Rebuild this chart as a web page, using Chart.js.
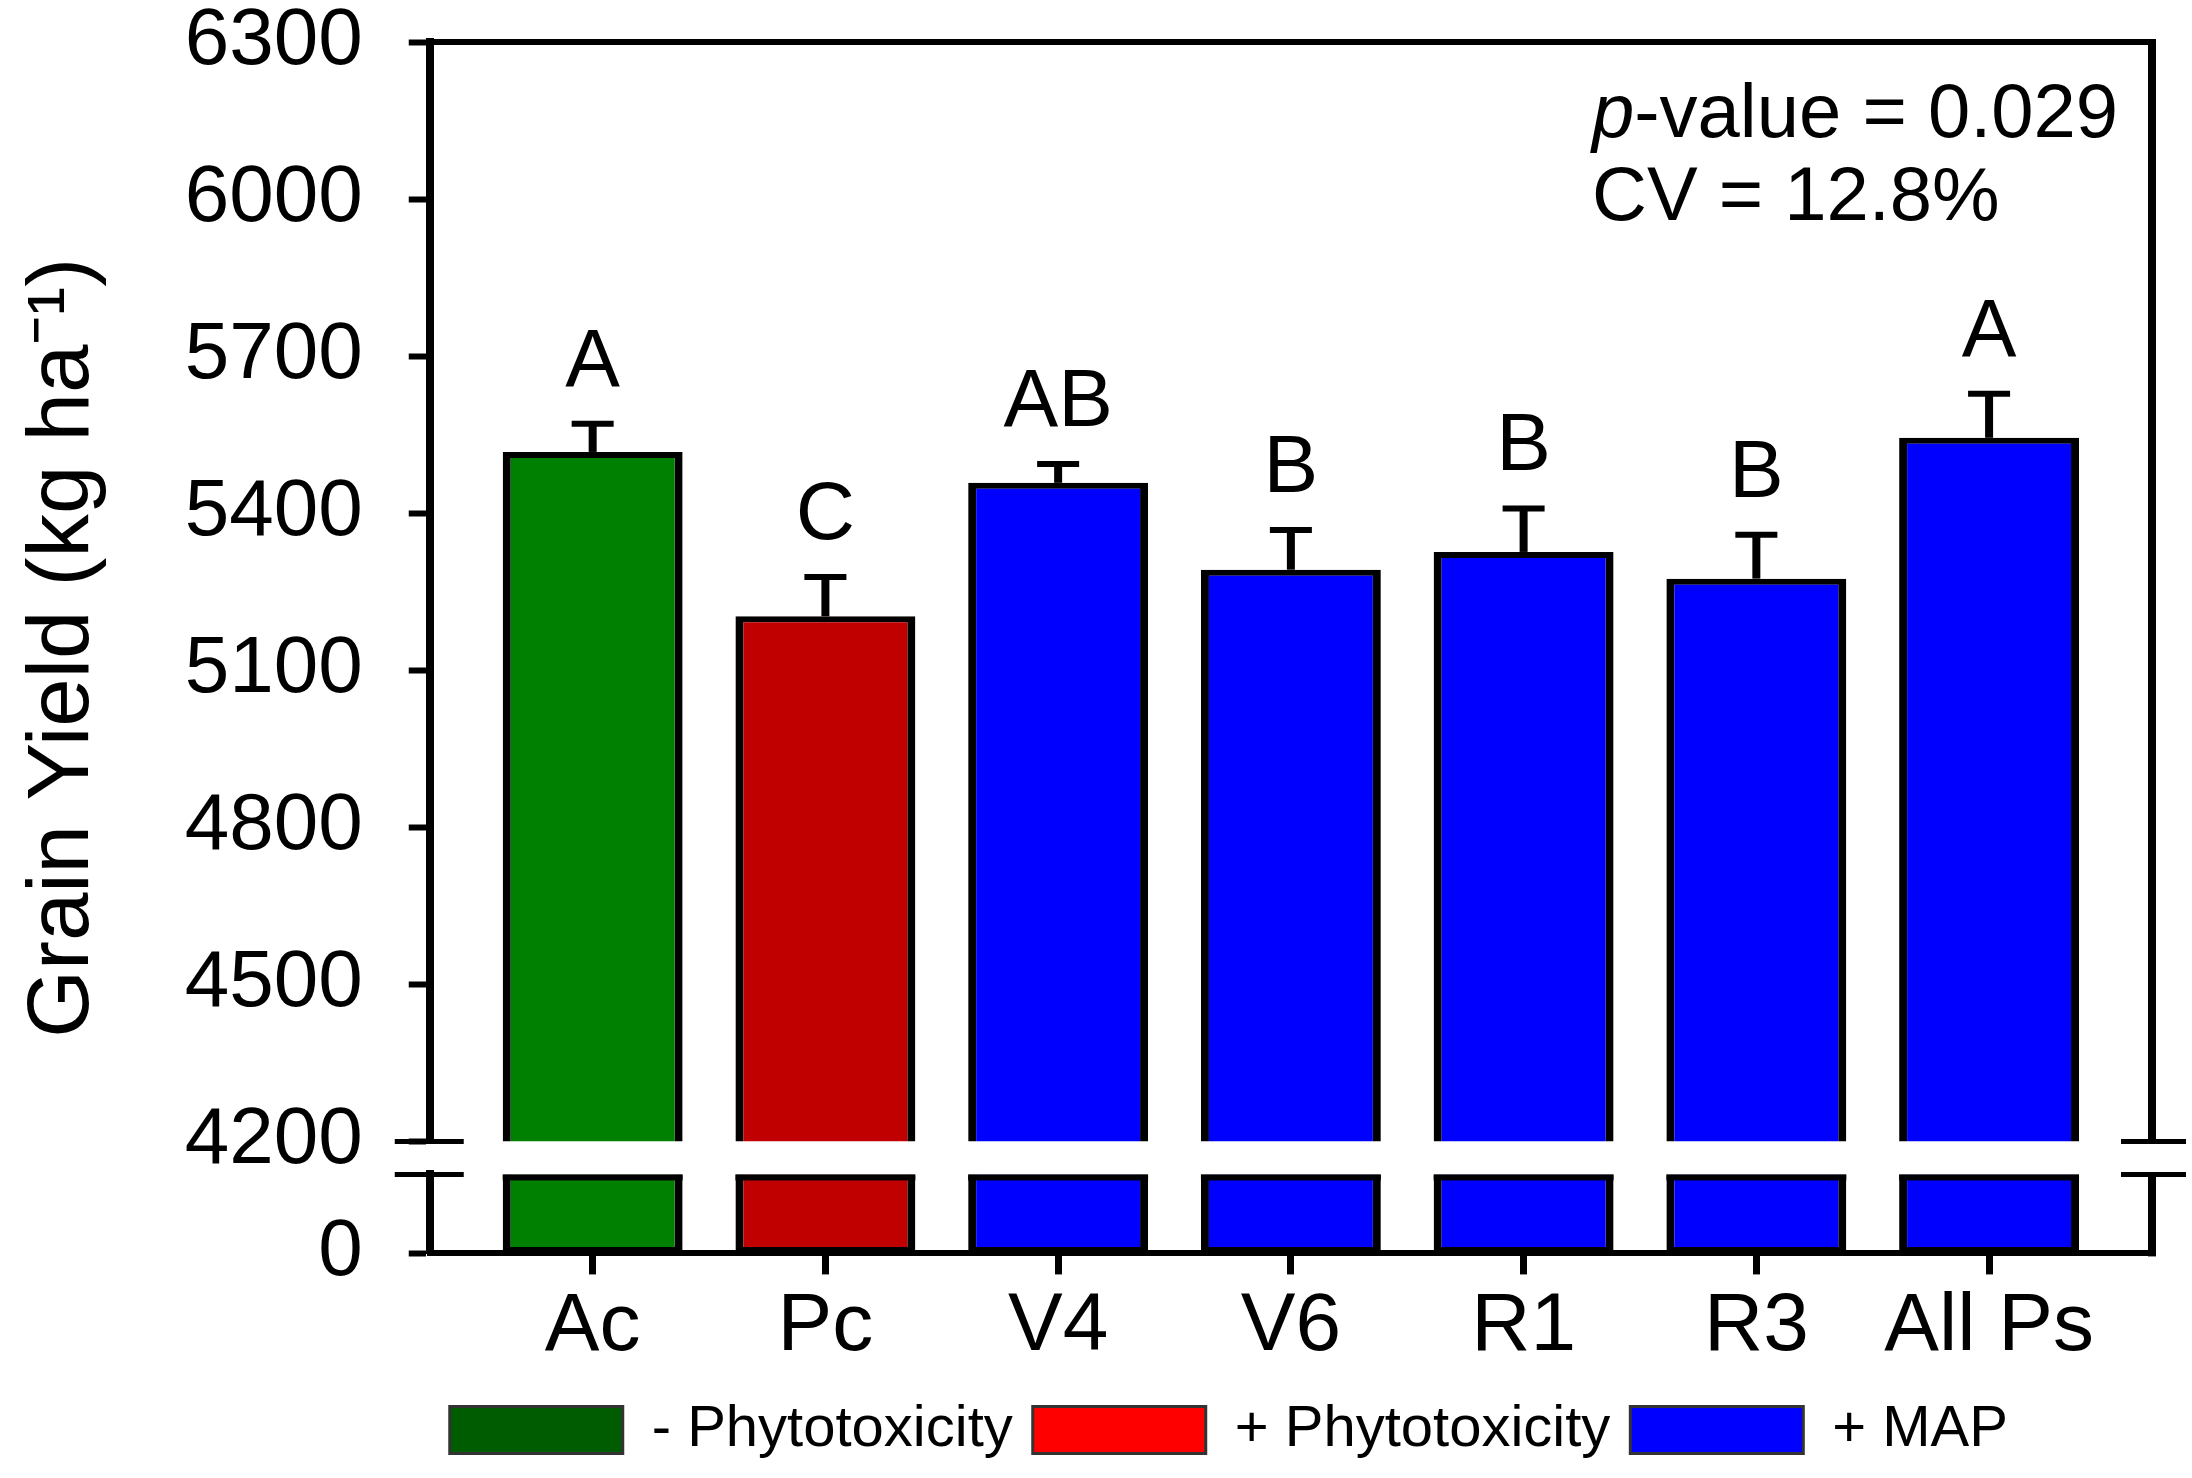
<!DOCTYPE html>
<html>
<head>
<meta charset="utf-8">
<script src="https://cdn.jsdelivr.net/npm/chart.js@4.4.1/dist/chart.umd.min.js"></script>
<style>
  html, body { margin: 0; padding: 0; background: #fff; }
  #contenedor { width: 2192px; height: 1478px; }
</style>
</head>
<body>
<div id="contenedor"><canvas id="graficoRendimiento"></canvas></div>
<script>
// Datos
const categories = ['Ac', 'Pc', 'V4', 'V6', 'R1', 'R3', 'All Ps'];
const yields = [5517, 5203, 5458, 5292, 5326, 5275, 5544];
const errors = [54, 75, 36, 76, 83, 84, 84];
const letters = ['A', 'C', 'AB', 'B', 'B', 'B', 'A'];
const groupOf = [0, 1, 2, 2, 2, 2, 2];
const groupNames = ['- Phytotoxicity', '+ Phytotoxicity', '+ MAP'];
const upperTicks = [4200, 4500, 4800, 5100, 5400, 5700, 6000, 6300];
const lowerTicks = [0];
const pValue = '0.029';
const cvValue = '12.8%';

const barColors = ['#008000', '#c00000', '#0000ff'];
const legendColors = ['#005c00', '#ff0000', '#0000ff'];
const FONT = '"Liberation Sans", Arial, Helvetica, sans-serif';

Chart.defaults.font.family = FONT;
Chart.defaults.color = '#000';

const puntos = yields.map((v, i) => ({ x: i, y: v }));

const estiloBarras = {
  backgroundColor: groupOf.map(g => barColors[g]),
  borderColor: '#000',
  borderWidth: { top: 6, bottom: 6, left: 8, right: 8 },
  borderSkipped: false,
  grouped: false,
  barPercentage: 1,
  categoryPercentage: 0.773
};

function linea(ctx, x1, y1, x2, y2) {
  ctx.beginPath();
  ctx.moveTo(x1, y1);
  ctx.lineTo(x2, y2);
  ctx.stroke();
}

// Recorta cada conjunto de barras a la zona de su propio eje (quiebre del eje)
const recorte = {
  id: 'recorte',
  beforeDatasetDraw(chart, args) {
    const esc = chart.scales[args.meta.yAxisID];
    const { left, right } = chart.chartArea;
    chart.ctx.save();
    chart.ctx.beginPath();
    chart.ctx.rect(left, esc.top, right - left, esc.bottom - esc.top);
    chart.ctx.clip();
  },
  afterDatasetDraw(chart, args) {
    const ctx = chart.ctx;
    ctx.restore();
    if (args.meta.yAxisID === 'yLow') {
      // borde superior de las barras en el tramo inferior
      const esc = chart.scales.yLow;
      ctx.save();
      ctx.fillStyle = '#000';
      args.meta.data.forEach(bar => {
        ctx.fillRect(bar.x - bar.width / 2, esc.top, bar.width, 6);
      });
      ctx.restore();
    }
  }
};

// Marco superior, eje derecho y marcas del quiebre
const marco = {
  id: 'marco',
  afterDraw(chart) {
    const ctx = chart.ctx;
    const { left, right, top } = chart.chartArea;
    const alto = chart.scales.y;
    const bajo = chart.scales.yLow;
    ctx.save();
    ctx.strokeStyle = '#000';
    ctx.lineWidth = 6;
    linea(ctx, left, top, right + 4, top);
    ctx.lineWidth = 8;
    linea(ctx, right, top, right, alto.bottom);
    linea(ctx, right, bajo.top, right, bajo.bottom + 3);
    ctx.lineWidth = 5;
    [alto.bottom, bajo.top].forEach(yy => {
      linea(ctx, left - 35, yy, left + 34, yy);
      linea(ctx, right - 31, yy, right + 34, yy);
    });
    ctx.restore();
  }
};

// Barras de error, letras de significancia y estadisticos
const anotaciones = {
  id: 'anotaciones',
  afterDatasetsDraw(chart) {
    const ctx = chart.ctx;
    const esc = chart.scales.y;
    const meta = chart.getDatasetMeta(0);
    ctx.save();
    ctx.strokeStyle = '#000';
    ctx.fillStyle = '#000';
    meta.data.forEach((bar, i) => {
      const yBar = esc.getPixelForValue(yields[i]);
      const yTop = esc.getPixelForValue(yields[i] + errors[i]);
      ctx.lineWidth = 8;
      linea(ctx, bar.x, yBar, bar.x, yTop);
      ctx.lineWidth = 6;
      linea(ctx, bar.x - 21, yTop, bar.x + 21, yTop);
      ctx.font = '82px ' + FONT;
      ctx.textAlign = 'center';
      ctx.textBaseline = 'alphabetic';
      ctx.fillText(letters[i], bar.x, yTop - 38);
    });

    const { right, top } = chart.chartArea;
    const x0 = right - 560;
    ctx.textAlign = 'left';
    ctx.font = 'italic 76px ' + FONT;
    ctx.fillText('p', x0, top + 95);
    const w = ctx.measureText('p').width;
    ctx.font = '76px ' + FONT;
    ctx.fillText('-value = ' + pValue, x0 + w, top + 95);
    ctx.fillText('CV = ' + cvValue, x0, top + 178);
    ctx.restore();
  }
};

const ejeY = {
  type: 'linear',
  position: 'left',
  stack: 'quiebre',
  // sin relleno vertical extra por las etiquetas
  afterFit: s => { s.paddingTop = 0; s.paddingBottom = 0; },
  ticks: { padding: 46, font: { size: 80, lineHeight: 1 }, color: '#000', callback: v => String(v) },
  grid: { drawOnChartArea: false, tickLength: 21, tickWidth: 6, tickColor: '#000' },
  border: { color: '#000', width: 8 }
};

new Chart(document.getElementById('graficoRendimiento'), {
  type: 'bar',
  data: {
    datasets: [
      { label: 'Tramo superior', data: puntos, yAxisID: 'y', ...estiloBarras },
      { label: 'Tramo inferior', data: puntos, yAxisID: 'yLow', ...estiloBarras }
    ]
  },
  options: {
    responsive: true,
    maintainAspectRatio: false,
    animation: false,
    events: [],
    layout: { padding: { top: 42, left: 18, right: 40, bottom: 9 } },
    scales: {
      x: {
        type: 'linear',
        offset: false,
        min: -0.7,
        max: categories.length - 0.3,
        afterBuildTicks: s => { s.ticks = categories.map((c, i) => ({ value: i })); },
        ticks: {
          callback: v => categories[v],
          autoSkip: false,
          maxRotation: 0,
          padding: 25,
          font: { size: 82, lineHeight: 0.69 },
          color: '#000'
        },
        grid: { offset: false, drawOnChartArea: false, tickLength: 21, tickWidth: 7, tickColor: '#000' },
        border: { color: '#000', width: 6 }
      },
      yLow: {
        ...ejeY,
        weight: 1,
        stackWeight: 79,
        min: 0,
        max: upperTicks[0],
        afterBuildTicks: s => { s.ticks = lowerTicks.map(v => ({ value: v })); }
      },
      yGap: {
        type: 'linear',
        position: 'left',
        stack: 'quiebre',
        weight: 2,
        stackWeight: 33,
        ticks: { display: false },
        grid: { display: false, drawTicks: false },
        border: { display: false }
      },
      y: {
        ...ejeY,
        weight: 3,
        stackWeight: 1099.5,
        min: upperTicks[0],
        max: upperTicks[upperTicks.length - 1],
        afterBuildTicks: s => { s.ticks = upperTicks.map(v => ({ value: v })); }
      },
      yTitle: {
        type: 'linear',
        position: 'left',
        weight: 4,
        ticks: { display: false },
        grid: { display: false, drawTicks: false },
        border: { display: false },
        title: {
          display: true,
          text: 'Grain Yield (kg ha⁻¹)',
          color: '#000',
          font: { size: 87, lineHeight: 1 },
          padding: { top: 3, bottom: 55 }
        }
      }
    },
    plugins: {
      tooltip: { enabled: false },
      legend: {
        position: 'bottom',
        align: 'start',
        fullSize: false,
        labels: {
          boxWidth: 173,
          boxHeight: 47,
          padding: 20,
          color: '#000',
          font: { size: 58 },
          generateLabels: () => groupNames.map((nombre, i) => ({
            text: nombre,
            fillStyle: legendColors[i],
            strokeStyle: '#333',
            lineWidth: 3,
            hidden: false,
            datasetIndex: 0
          }))
        }
      }
    }
  },
  plugins: [recorte, marco, anotaciones]
});
</script>
</body>
</html>
